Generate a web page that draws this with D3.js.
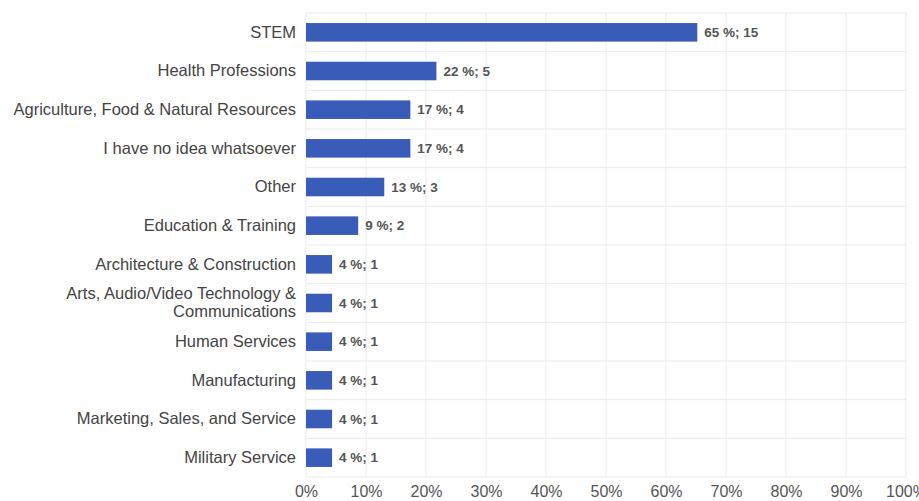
<!DOCTYPE html>
<html><head><meta charset="utf-8">
<script src="https://cdn.jsdelivr.net/npm/d3@7"></script>
<style>
html,body{margin:0;padding:0;background:#fff;overflow:hidden}
svg{display:block}
</style></head><body>
<svg id="chart" width="919" height="501"></svg>
<script>
const categories = ["STEM","Health Professions","Agriculture, Food & Natural Resources","I have no idea whatsoever","Other","Education & Training","Architecture & Construction","Arts, Audio/Video Technology & Communications","Human Services","Manufacturing","Marketing, Sales, and Service","Military Service"];
const counts = [15,5,4,4,3,2,1,1,1,1,1,1];
const percents = [65,22,17,17,13,9,4,4,4,4,4,4];
const total = 23;
const tickValues = [0,10,20,30,40,50,60,70,80,90,100];

const svg = d3.select("#chart");
const m = {left:306, right:13, top:13, bottom:24};
const W = 919, H = 501;
const x = d3.scaleLinear().domain([0,100]).range([m.left, W - m.right]);
const y = d3.scaleBand().domain(categories).range([m.top, H - m.bottom]).paddingInner(0.52).paddingOuter(0.26);
const yRow = d3.scaleBand().domain(categories).range([m.top, H - m.bottom]);

const font = "'Liberation Sans', Arial, sans-serif";

// vertical grid
svg.append("g").selectAll("line").data(tickValues).join("line")
  .attr("x1", d=>x(d)).attr("x2", d=>x(d))
  .attr("y1", m.top).attr("y2", H - m.bottom)
  .attr("stroke", "#ebebeb").attr("stroke-width", 1);
// horizontal grid (row boundaries)
const bounds = categories.map(c=>yRow(c)).concat([H - m.bottom]);
svg.append("g").selectAll("line").data(bounds).join("line")
  .attr("x1", m.left).attr("x2", W - m.right)
  .attr("y1", d=>d).attr("y2", d=>d)
  .attr("stroke", "#ebebeb").attr("stroke-width", 1);

// bars
svg.append("g").selectAll("rect").data(categories).join("rect")
  .attr("x", x(0))
  .attr("y", d=>y(d))
  .attr("width", (d,i)=>x(counts[i]/total*100) - x(0))
  .attr("height", y.bandwidth())
  .attr("fill", "#3a5cb9");

// value labels
svg.append("g").selectAll("text").data(categories).join("text")
  .attr("x", (d,i)=>x(counts[i]/total*100) + 7)
  .attr("y", d=>y(d) + y.bandwidth()/2)
  .attr("dy", "0.35em")
  .attr("font-family", font).attr("font-size", 13.5).attr("font-weight", "bold")
  .attr("fill", "#555")
  .text((d,i)=>percents[i] + " %; " + counts[i]);

// category labels
const yAxis = d3.axisLeft(y).tickSize(0).tickPadding(10);
const gy = svg.append("g").attr("transform", `translate(${m.left},0)`).call(yAxis);
gy.select(".domain").remove();
gy.selectAll("text").attr("font-family", font).attr("font-size", 16.5).attr("fill", "#444")
  .each(function(d){
    if (d === "Arts, Audio/Video Technology & Communications") {
      const t = d3.select(this); t.text(null);
      t.append("tspan").attr("x", -10).attr("dy", "-0.25em").text("Arts, Audio/Video Technology &");
      t.append("tspan").attr("x", -10).attr("dy", "1.1em").text("Communications");
    }
  });

// x axis
const xAxis = d3.axisBottom(x).tickValues(tickValues).tickFormat(d=>d+"%").tickSize(0).tickPadding(9);
const gx = svg.append("g").attr("transform", `translate(0,${H - m.bottom})`).call(xAxis);
gx.select(".domain").remove();
gx.selectAll("text").attr("font-family", font).attr("font-size", 16).attr("fill", "#555");
</script>
</body></html>
